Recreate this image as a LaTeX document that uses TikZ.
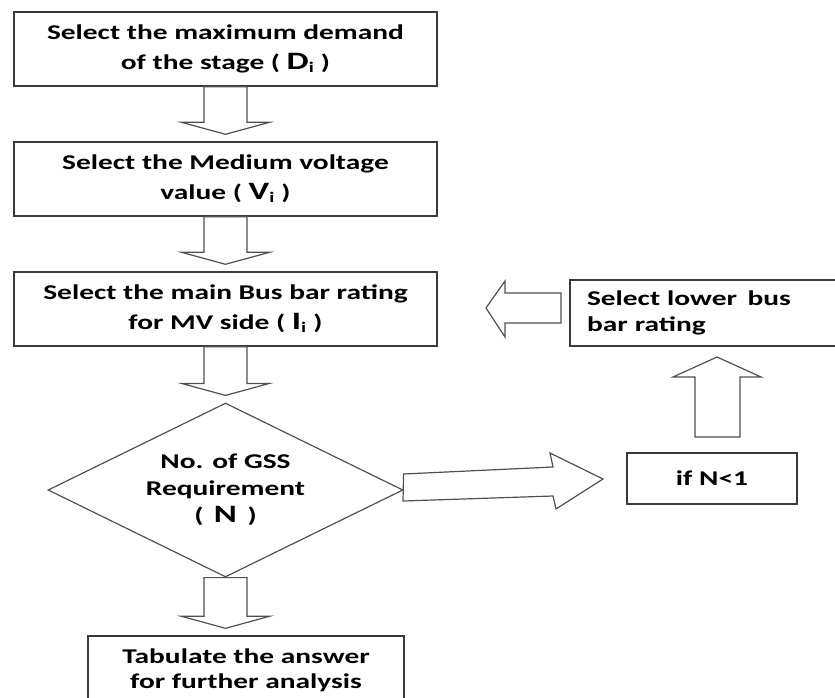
\documentclass[tikz,border=0pt]{standalone}
\usepackage{fontspec}
\setmainfont{Carlito}[FakeStretch=1.4]
\usetikzlibrary{shapes.geometric,calc}
\definecolor{boxc}{HTML}{3A3A3A}
\definecolor{arrc}{HTML}{505050}
\newcommand\blkdown[2]{\draw[blk] let \p1=(#1.south), \p2=(#2.north) in
  (\x1-21.5pt,\y1) -- (\x1-21.5pt,\y2+19pt) -- (\x1-44pt,\y2+19pt) -- (\x1,\y2+7pt)
  -- (\x1+44pt,\y2+19pt) -- (\x1+21.5pt,\y2+19pt) -- (\x1+21.5pt,\y1) -- cycle;}
\begin{document}
\begin{tikzpicture}[x=1pt,y=-1pt,
  box/.style={draw=boxc, line width=1.4pt, minimum width=423pt, minimum height=74pt,
    inner sep=0pt, align=center, font=\fontsize{21}{30}\selectfont\bfseries},
  blk/.style={draw=arrc, line width=1.2pt, line join=miter},
  big/.style={}]
\clip (0,0) rectangle (835,698);
\node[box] (b1) at (225.5,49) {Select the maximum demand\\of the stage ( {\fontsize{25}{30}\selectfont D}\textsubscript{i} )};
\node[box] (b2) at (225.5,179) {Select the Medium voltage\\value ( {\fontsize{25}{30}\selectfont V}\textsubscript{i} )};
\node[box] (b3) at (225.5,309) {Select the main Bus bar rating\\for MV side ( {\fontsize{25}{30}\selectfont I}\textsubscript{i} )};
\node[draw=arrc, line width=1.2pt, shape=diamond, aspect=2.04, minimum width=355pt, minimum height=174pt,
  inner sep=0pt, align=center, font=\fontsize{21}{27}\selectfont\bfseries] (dm) at (225.5,490)
  {No. of GSS\\Requirement\\(\enspace{\fontsize{25}{27}\selectfont N}\enspace)};
\node[box, minimum width=316pt, minimum height=68pt, font=\fontsize{21}{25}\selectfont\bfseries] (b5) at (246,670)
  {Tabulate the answer\\for further analysis};
\node[box, minimum width=300pt, minimum height=66pt, text width=266pt, align=left,
  font=\fontsize{21}{26}\selectfont\bfseries] (rb) at (720,313) {Select lower\enspace bus\\bar rating};
\node[box, minimum width=170pt, minimum height=51pt] (cn) at (712,478.5) {if N<1};
\blkdown{b1}{b2}
\blkdown{b2}{b3}
\blkdown{b3}{dm}
\blkdown{dm}{b5}
\draw[blk] (695,437) -- (695,377) -- (673,377) -- (717,357) -- (761,377) -- (740,377) -- (740,437) -- cycle;
\draw[blk] (561,293) -- (505,293) -- (505,281) -- (486,308) -- (505,337) -- (505,323) -- (561,323) -- cycle;
\draw[blk] (dm.east) ++(0,-16) coordinate (ta) -- (553,467) -- (550,453) -- (603,479) -- (556,509) -- (553,496) -- (403,501) -- cycle;
\end{tikzpicture}
\end{document}
